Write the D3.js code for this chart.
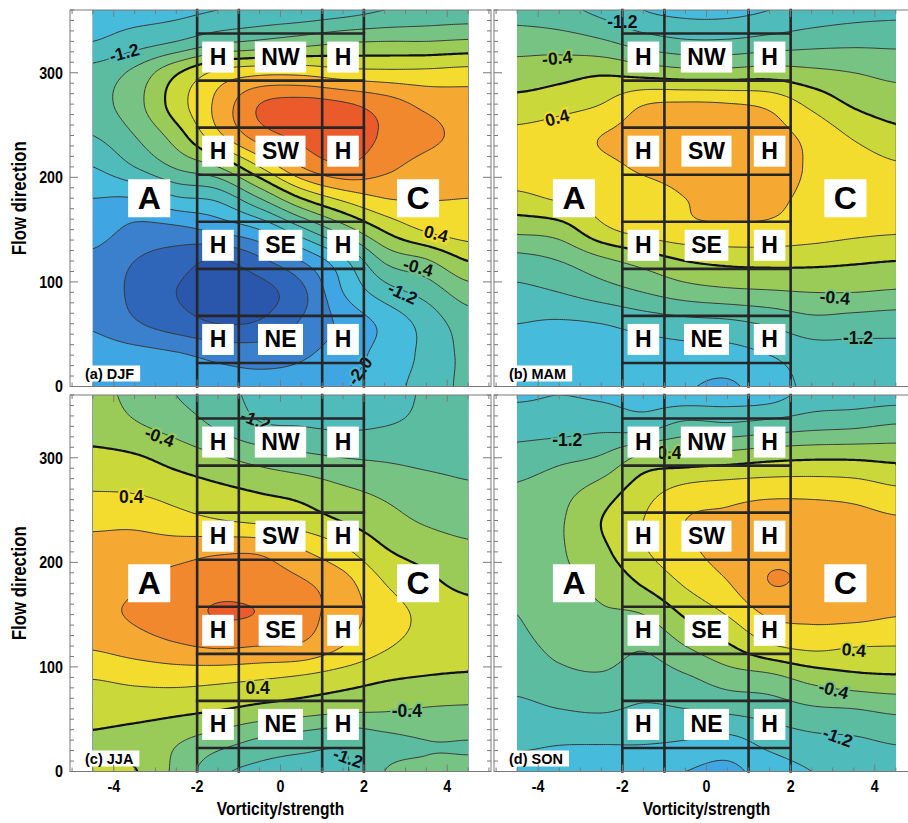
<!DOCTYPE html>
<html><head><meta charset="utf-8">
<script src="https://cdn.jsdelivr.net/npm/d3@7"></script>
<style>body{margin:0;background:#fff}svg{display:block}</style>
</head><body><svg id="chart" width="908" height="823"></svg>
<script>
// ---------------- data ----------------
const vorticity = [-4.5, -3.5, -2.5, -1.5, -0.5, 0.5, 1.5, 2.5, 3.5, 4.5];
const flowDirection = [360, 330, 300, 270, 240, 210, 180, 150, 120, 90, 60, 30, 0];

const djf = [
  [-1.75, -1.75, -1.7, -1.6, -1.5, -1.45, -1.35, -1.2, -1.1, -1.05],
  [-1.6, -1.4, -1.2, -0.9, -0.75, -0.6, -0.45, -0.4, -0.4, -0.35],
  [-1.05, -0.7, -0.05, 0.5, 0.7, 0.7, 0.55, 0.5, 0.5, 0.55],
  [-0.95, -0.55, 0.2, 0.9, 1.6, 1.75, 1.65, 1.4, 1.1, 1.0],
  [-1.2, -0.8, -0.2, 0.7, 1.4, 1.7, 1.8, 1.55, 1.3, 1.1],
  [-1.6, -1.2, -0.75, -0.4, 0.4, 1.2, 1.55, 1.3, 1.05, 0.95],
  [-2.0, -2.0, -1.65, -1.5, -0.8, 0.0, 0.5, 0.8, 0.82, 0.8],
  [-2.2, -2.5, -2.5, -2.3, -2.0, -1.3, -0.6, 0.05, 0.45, 0.6],
  [-2.5, -2.8, -3.0, -3.25, -2.9, -2.4, -1.7, -0.75, -0.45, 0.0],
  [-2.5, -2.9, -3.2, -3.4, -3.35, -2.9, -2.0, -1.4, -1.05, -0.6],
  [-2.45, -2.75, -3.0, -3.2, -3.15, -2.75, -2.3, -1.9, -1.45, -1.0],
  [-2.2, -2.25, -2.35, -2.5, -2.55, -2.45, -2.2, -1.85, -1.5, -1.1],
  [-2.1, -2.1, -2.15, -2.25, -2.3, -2.25, -2.05, -1.75, -1.45, -1.1]
];
const mam = [
  [-1.0, -1.1, -1.3, -1.6, -1.7, -1.7, -1.6, -1.45, -1.35, -1.3],
  [-0.55, -0.6, -0.75, -1.0, -1.15, -1.15, -1.05, -0.95, -0.9, -0.9],
  [-0.25, -0.15, -0.05, -0.15, -0.25, -0.25, -0.2, -0.3, -0.4, -0.5],
  [0.15, 0.25, 0.4, 0.78, 0.85, 0.82, 0.7, 0.3, -0.05, -0.2],
  [0.5, 0.6, 0.8, 0.95, 1.05, 1.05, 0.95, 0.68, 0.35, 0.12],
  [0.6, 0.65, 0.72, 0.85, 0.95, 1.1, 1.0, 0.75, 0.6, 0.45],
  [0.3, 0.45, 0.55, 0.65, 0.8, 0.95, 0.9, 0.7, 0.6, 0.55],
  [-0.3, -0.2, 0.3, 0.55, 0.7, 0.72, 0.7, 0.6, 0.5, 0.45],
  [-0.95, -0.8, -0.5, -0.25, 0.0, 0.1, 0.12, 0.1, 0.05, 0.0],
  [-1.3, -1.2, -1.0, -0.8, -0.6, -0.5, -0.45, -0.4, -0.4, -0.45],
  [-1.6, -1.65, -1.6, -1.45, -1.35, -1.3, -1.15, -0.95, -1.0, -1.05],
  [-1.7, -1.85, -1.85, -1.8, -1.75, -1.75, -1.6, -1.4, -1.35, -1.3],
  [-1.7, -1.85, -1.9, -1.9, -1.97, -2.05, -1.8, -1.5, -1.4, -1.35]
];
const jja = [
  [-0.3, -0.5, -0.8, -1.05, -1.3, -1.4, -1.45, -1.35, -1.15, -1.0],
  [-0.2, -0.35, -0.55, -0.85, -1.15, -1.2, -1.25, -1.2, -1.1, -0.95],
  [0.12, 0.05, -0.15, -0.35, -0.55, -0.7, -0.8, -0.85, -0.9, -0.9],
  [0.38, 0.35, 0.22, 0.08, -0.05, -0.15, -0.35, -0.5, -0.65, -0.75],
  [0.7, 0.7, 0.55, 0.42, 0.32, 0.2, -0.02, -0.25, -0.45, -0.55],
  [0.95, 1.0, 1.05, 1.15, 1.15, 0.85, 0.5, 0.05, -0.15, -0.3],
  [1.05, 1.15, 1.35, 1.45, 1.4, 1.25, 0.95, 0.4, 0.1, -0.1],
  [1.1, 1.25, 1.45, 1.62, 1.58, 1.35, 1.0, 0.6, 0.3, 0.15],
  [0.85, 1.0, 1.15, 1.25, 1.2, 1.15, 0.8, 0.45, 0.25, 0.15],
  [0.42, 0.5, 0.55, 0.52, 0.45, 0.35, 0.2, 0.05, -0.02, -0.05],
  [0.18, 0.18, 0.12, 0.03, -0.1, -0.2, -0.3, -0.35, -0.42, -0.45],
  [-0.05, -0.15, -0.35, -0.6, -0.85, -1.0, -1.1, -0.9, -0.8, -0.8],
  [0.05, 0.02, -0.5, -1.1, -1.3, -1.35, -1.25, -0.8, -0.75, -0.75]
];
const son = [
  [-1.65, -1.6, -1.65, -1.75, -1.8, -1.8, -1.75, -1.45, -1.4, -1.35],
  [-1.35, -1.35, -1.3, -1.35, -1.05, -1.1, -1.0, -0.9, -0.85, -0.75],
  [-1.05, -0.9, -0.75, -0.3, -0.25, -0.2, -0.1, -0.05, -0.05, -0.1],
  [-0.75, -0.55, -0.25, 0.2, 0.5, 0.6, 0.65, 0.65, 0.6, 0.45],
  [-0.7, -0.45, 0.0, 0.4, 0.8, 0.88, 1.0, 1.0, 0.95, 0.85],
  [-0.7, -0.45, -0.1, 0.35, 0.7, 0.95, 1.1, 1.1, 1.05, 0.95],
  [-0.72, -0.5, -0.3, 0.05, 0.45, 0.78, 1.2, 1.12, 1.05, 0.95],
  [-0.8, -0.55, -0.45, -0.4, 0.05, 0.42, 0.85, 0.9, 0.9, 0.82],
  [-0.9, -0.7, -0.6, -0.75, -0.4, -0.05, 0.35, 0.5, 0.42, 0.4],
  [-1.05, -0.9, -0.85, -1.0, -0.85, -0.6, -0.5, -0.25, -0.1, -0.05],
  [-1.3, -1.2, -1.15, -1.25, -1.2, -1.1, -1.0, -0.85, -0.8, -0.7],
  [-1.5, -1.55, -1.55, -1.55, -1.6, -1.7, -1.45, -1.3, -1.25, -1.15],
  [-1.75, -1.8, -1.85, -1.9, -2.0, -2.1, -1.8, -1.6, -1.5, -1.4]
];

const contourLevels = [-3.2, -2.8, -2.4, -2.0, -1.6, -1.2, -0.8, -0.4, 0, 0.4, 0.8, 1.2, 1.6, 2.0];
const bandColors = ['#2a56ab', '#2f66b9', '#3a80cc', '#3fa6e3', '#47bbdb', '#4fbcbb', '#5bbca0',
  '#76c384', '#9acb58', '#cad83a', '#f4dc2e', '#f6a932', '#f2882e', '#ea5a2a', '#e03c24'];

const panelNames = ['(a) DJF', '(b) MAM', '(c) JJA', '(d) SON'];
const sectorNames = ['NW', 'SW', 'SE', 'NE'];
const sectorDirections = [315, 225, 135, 45];
const sectorBounds = [22.5, 67.5, 112.5, 157.5, 202.5, 247.5, 292.5, 337.5];
const sectorColumns = [-2, -1, 1, 2];
const hybridColumns = [-1.5, 1.5];
const xTicks = [-4, -2, 0, 2, 4];
const yTicks = [0, 100, 200, 300];

// contour labels: [panel index, vorticity, flow direction, text, rotation]
const contourLabels = [
  [0, -3.75, 319, '-1.2', -15], [0, 3.73, 146, '0.4', 15], [0, 3.3, 114, '-0.4', 15],
  [0, 2.93, 89, '-1.2', 25], [0, 1.9, 15, '-2.0', -55],
  [1, -2.0, 349, '-1.2', 0], [1, -3.55, 314, '-0.4', -5], [1, -3.55, 257, '0.4', -15],
  [1, 3.05, 85, '-0.4', 5], [1, 3.6, 46, '-1.2', 0],
  [2, -2.9, 320, '-0.4', 20], [2, -3.58, 262, '0.4', 0], [2, -0.55, 80, '0.4', 0],
  [2, 3.03, 58, '-0.4', 0], [2, 1.62, 13, '-1.2', 20], [2, -0.6, 336, '-1.2', 20],
  [3, -3.31, 317, '-1.2', 0], [3, -0.95, 305, '-0.4', 0], [3, 3.5, 116, '0.4', 5],
  [3, 3.02, 78, '-0.4', 15], [3, 3.12, 33, '-1.2', 20]
];

// ---------------- layout ----------------
const panels = [
  {data: djf, x0: 70, x1: 491, y0: 10, y1: 386.5, yAxis: true, xAxis: false},
  {data: mam, x0: 494, x1: 919, y0: 10, y1: 386.5, yAxis: false, xAxis: false},
  {data: jja, x0: 70, x1: 491, y0: 395, y1: 771.5, yAxis: true, xAxis: true},
  {data: son, x0: 494, x1: 919, y0: 395, y1: 771.5, yAxis: false, xAxis: true}
];
const svg = d3.select('#chart');
const defs = svg.append('defs');
const sans = "'Liberation Sans',Arial,Helvetica,sans-serif";

function cubic(p0, p1, p2, p3, t) {
  return p1 + 0.5 * t * (p2 - p0 + t * (2 * p0 - 5 * p1 + 4 * p2 - p3 + t * (3 * (p1 - p2) + p3 - p0)));
}
function sampleGrid(grid, c, r) {
  const nr = grid.length, nc = grid[0].length;
  const ci = Math.floor(c), ri = Math.floor(r);
  const tc = c - ci, tr = r - ri;
  const cl = i => Math.max(0, Math.min(nc - 1, i)), rl = j => Math.max(0, Math.min(nr - 1, j));
  const tmp = [];
  for (let k = -1; k <= 2; k++) {
    const row = grid[rl(ri + k)];
    tmp.push(cubic(row[cl(ci - 1)], row[cl(ci)], row[cl(ci + 1)], row[cl(ci + 2)], tc));
  }
  return cubic(tmp[0], tmp[1], tmp[2], tmp[3], tr);
}
const vStep = vorticity[1] - vorticity[0];
const fStep = flowDirection[0] - flowDirection[1];
function valueAt(grid, v, f) {
  return sampleGrid(grid, (v - vorticity[0]) / vStep, (flowDirection[0] - f) / fStep);
}
function colorFor(val) {
  let k = 0;
  contourLevels.forEach((t, i) => { if (val >= t) k = i + 1; });
  return bandColors[k];
}

const dv = 0.05, df = 2.5;
const vMin = vorticity[0], vMax = vorticity[vorticity.length - 1];
const fMax = flowDirection[0], fMin = flowDirection[flowDirection.length - 1];
const nx = Math.round((vMax - vMin) / dv) + 1;
const ny = Math.round((fMax - fMin) / df) + 1;

function textBox(g, x, y, text, size, padX, h) {
  const gg = g.append('g');
  const rect = gg.append('rect').attr('fill', '#fff');
  const t = gg.append('text').attr('x', x).attr('y', y)
    .attr('text-anchor', 'middle').attr('dominant-baseline', 'central')
    .attr('font-family', sans).attr('font-weight', 'bold')
    .attr('font-size', size).attr('fill', '#000').text(text);
  const w = t.node().getComputedTextLength() + 2 * padX;
  rect.attr('x', x - w / 2).attr('y', y - h / 2).attr('width', w).attr('height', h);
}
// condensed bold text (narrow look via horizontal scale)
function narrowText(g, x, y, text, size, anchor, rot) {
  return g.append('text')
    .attr('transform', `translate(${x},${y}) rotate(${rot || 0}) scale(0.84,1)`)
    .attr('text-anchor', anchor).attr('dominant-baseline', 'central')
    .attr('font-family', sans).attr('font-weight', 'bold').attr('font-size', size)
    .attr('fill', '#000').text(text);
}

panels.forEach((p, pi) => {
  const xs = d3.scaleLinear().domain([-5.05, 5.05]).range([p.x0, p.x1]);
  const ys = d3.scaleLinear().domain([0, 360]).range([p.y1, p.y0]);
  const g = svg.append('g');
  const clipId = 'clip' + pi;
  defs.append('clipPath').attr('id', clipId).append('rect')
    .attr('x', xs(vMin)).attr('y', ys(fMax))
    .attr('width', xs(vMax) - xs(vMin)).attr('height', ys(fMin) - ys(fMax));

  const values = new Float64Array(nx * ny);
  for (let j = 0; j < ny; j++) {
    const f = fMax - j * df;
    for (let i = 0; i < nx; i++) values[j * nx + i] = valueAt(p.data, vMin + i * dv, f);
  }
  const contours = d3.contours().size([nx, ny]).thresholds(contourLevels)(values);
  const proj = d3.geoTransform({point: function (x, y) {
    this.stream.point(xs(vMin + (x - 0.5) * dv), ys(fMax - (y - 0.5) * df));
  }});
  const path = d3.geoPath(proj);
  const cg = g.append('g').attr('clip-path', `url(#${clipId})`);
  cg.append('rect').attr('x', xs(vMin) - 2).attr('y', ys(fMax) - 2)
    .attr('width', xs(vMax) - xs(vMin) + 4).attr('height', ys(fMin) - ys(fMax) + 4)
    .attr('fill', bandColors[0]);
  cg.selectAll('path.fill').data(contours).join('path').attr('class', 'fill')
    .attr('d', path).attr('fill', (d, i) => bandColors[i + 1]);
  cg.selectAll('path.line').data(contours).join('path').attr('class', 'line')
    .attr('d', path).attr('fill', 'none')
    .attr('stroke', d => Math.abs(d.value) < 1e-9 ? '#111' : '#383838')
    .attr('stroke-width', d => Math.abs(d.value) < 1e-9 ? 2.2 : 1.0)
    .attr('stroke-linejoin', 'round');

  // contour labels
  contourLabels.filter(l => l[0] === pi).forEach(l => {
    const x = xs(l[1]), y = ys(l[2]);
    cg.append('text').attr('transform', `translate(${x},${y}) rotate(${l[4]})`)
      .attr('text-anchor', 'middle').attr('dominant-baseline', 'central')
      .attr('font-family', sans).attr('font-weight', 'bold').attr('font-size', 17.5)
      .attr('fill', '#111').attr('stroke', colorFor(valueAt(p.data, l[1], l[2])))
      .attr('stroke-width', 4).attr('paint-order', 'stroke').text(l[3]);
  });

  // sector grid
  const sg = g.append('g').attr('stroke', '#262626').attr('stroke-width', 2.6).attr('stroke-linecap', 'square');
  sectorColumns.forEach(v => sg.append('line').attr('x1', xs(v)).attr('x2', xs(v))
    .attr('y1', ys(fMin)).attr('y2', ys(fMax)));
  sectorBounds.forEach(f => sg.append('line').attr('x1', xs(sectorColumns[0])).attr('x2', xs(sectorColumns[3]))
    .attr('y1', ys(f)).attr('y2', ys(f)));

  sectorNames.forEach((name, k) => {
    const y = ys(sectorDirections[k]);
    textBox(g, xs(0), y, name, 23, 6.5, 31);
    hybridColumns.forEach(v => textBox(g, xs(v), y, 'H', 23, 7.5, 31));
  });
  textBox(g, xs(-3.15), ys(180), 'A', 32, 9.5, 38);
  textBox(g, xs(3.3), ys(180), 'C', 32, 9.5, 38);

  // panel name
  const ng = g.append('g');
  const nr = ng.append('rect').attr('fill', '#fff');
  const nt = ng.append('text').attr('x', p.x0 + 15).attr('y', ys(0) - 13)
    .attr('dominant-baseline', 'central').attr('font-family', sans).attr('font-weight', 'bold')
    .attr('font-size', 14.5).attr('fill', '#000').text(panelNames[pi]);
  const nw = nt.node().getComputedTextLength();
  nr.attr('x', p.x0 + 13).attr('y', ys(0) - 21).attr('width', nw + 8).attr('height', 16);

  // frame & ticks
  const tg = g.append('g').attr('stroke', '#7a7a7a').attr('stroke-width', 1);
  tg.append('rect').attr('x', p.x0).attr('y', p.y0).attr('width', p.x1 - p.x0).attr('height', p.y1 - p.y0)
    .attr('fill', 'none');
  d3.range(-10, 11).forEach(k => {
    const v = k / 2, len = (k % 4 === 0) ? 7 : 4;
    tg.append('line').attr('x1', xs(v)).attr('x2', xs(v)).attr('y1', p.y1).attr('y2', p.y1 - len);
    tg.append('line').attr('x1', xs(v)).attr('x2', xs(v)).attr('y1', p.y0).attr('y2', p.y0 + len);
  });
  d3.range(0, 361, 10).forEach(f => {
    const len = (f % 100 === 0) ? 8 : 4;
    tg.append('line').attr('x1', p.x0).attr('x2', p.x0 + len).attr('y1', ys(f)).attr('y2', ys(f));
    tg.append('line').attr('x1', p.x1).attr('x2', p.x1 - len).attr('y1', ys(f)).attr('y2', ys(f));
  });

  if (p.yAxis) {
    yTicks.forEach(t => narrowText(g, p.x0 - 7, ys(t), t, 17, 'end'));
    narrowText(g, 19, (p.y0 + p.y1) / 2, 'Flow direction', 20, 'middle', -90);
  }
  if (p.xAxis) {
    xTicks.forEach(t => narrowText(g, xs(t), p.y1 + 15, t, 17, 'middle'));
    narrowText(g, xs(0), p.y1 + 38, 'Vorticity/strength', 18.5, 'middle');
  }
});
</script>
</body></html>
